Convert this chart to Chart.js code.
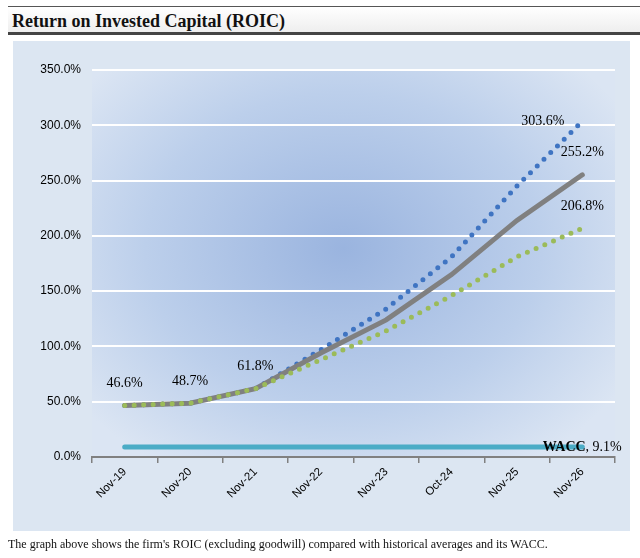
<!DOCTYPE html>
<html>
<head>
<meta charset="utf-8">
<script src="https://cdn.jsdelivr.net/npm/chart.js@4.4.1/dist/chart.umd.min.js"></script>
<style>
  html, body { margin: 0; padding: 0; background: #fff; }
  #wrap { position: relative; width: 640px; height: 558px; overflow: hidden; }
  #title {
    position: absolute; left: 8px; right: 0; top: 6px; height: 29px;
    border-top: 1px solid #555; border-bottom: 3px solid #444;
    background: linear-gradient(to bottom, #ffffff, #eeeeee);
    font: bold 18px "Liberation Serif", serif; color: #111;
    padding-left: 4px; line-height: 29px; box-sizing: border-box;
  }
  #panel { position: absolute; left: 13px; top: 41px; width: 617px; height: 490px; background: #dce6f2; }
  #roic { position: absolute; left: 0; top: 0; }
  #note { position: absolute; left: 8px; top: 537px; font: 12px "Liberation Serif", serif; color: #111; }
</style>
</head>
<body>
<div id="wrap">
  <div id="title">Return on Invested Capital (ROIC)</div>
  <div id="panel"></div>
  <canvas id="roic" width="640" height="558"></canvas>
  <div id="note">The graph above shows the firm's ROIC (excluding goodwill) compared with historical averages and its WACC.</div>
</div>
<script>
// chart data
var categories = ["Nov-19", "Nov-20", "Nov-21", "Nov-22", "Nov-23", "Oct-24", "Nov-25", "Nov-26"];
var roic = [46.6, 48.7, 61.8, 94, 124, 165, 214, 255.2];
var roicHigh = [46.6, 48.7, 61.8, 97, 134, 181, 245, 303.6];
var roicLow = [46.6, 48.7, 61.8, 88, 114, 146, 181, 206.8];
var wacc = [9.1, 9.1, 9.1, 9.1, 9.1, 9.1, 9.1, 9.1];
var yTicks = [0, 50, 100, 150, 200, 250, 300, 350];

function pct(v) { return v.toFixed(1) + '%'; }

// radial shading behind the plot area
var plotShade = {
    id: 'plotShade',
    beforeDraw: function(chart) {
        var a = chart.chartArea, ctx = chart.ctx;
        var cx = (a.left + a.right) / 2 - 10, cy = (a.top + a.bottom) / 2 - 15;
        var rx = 330, ry = 260;
        ctx.save();
        ctx.beginPath();
        ctx.rect(a.left, a.top, a.right - a.left, a.bottom - a.top);
        ctx.clip();
        ctx.translate(cx, cy);
        ctx.scale(1, ry / rx);
        var g = ctx.createRadialGradient(0, 0, 0, 0, 0, rx);
        g.addColorStop(0, '#9ab4df');
        g.addColorStop(0.6, '#bccfeb');
        g.addColorStop(1, '#dbe5f3');
        ctx.fillStyle = g;
        ctx.fillRect(-rx * 2, -rx * 2, rx * 4, rx * 4);
        ctx.restore();
    }
};

// value labels
var valueLabels = {
    id: 'valueLabels',
    afterDatasetsDraw: function(chart) {
        var ctx = chart.ctx;
        var last = categories.length - 1;
        var pts = function(i) { return chart.getDatasetMeta(i).data; };
        ctx.save();
        ctx.fillStyle = '#000';
        ctx.font = '14px "Liberation Serif", serif';
        ctx.textBaseline = 'middle';
        ctx.textAlign = 'center';
        // base series: first three and last
        [0, 1, 2, last].forEach(function(i) {
            var p = pts(1)[i];
            ctx.fillText(pct(roic[i]), p.x, p.y - 22);
        });
        var pl = pts(2)[last];
        ctx.fillText(pct(roicLow[last]), pl.x, pl.y - 22);
        var ph = pts(0)[last];
        ctx.textAlign = 'right';
        ctx.fillText(pct(roicHigh[last]), ph.x - 18, ph.y);
        // WACC
        var pw = pts(3)[last];
        ctx.font = 'bold 14px "Liberation Serif", serif';
        var w1 = ctx.measureText('WACC').width;
        ctx.font = '14px "Liberation Serif", serif';
        var w2 = ctx.measureText(', ' + pct(wacc[last])).width;
        var x0 = pw.x - (w1 + w2) / 2;
        ctx.textAlign = 'left';
        ctx.font = 'bold 14px "Liberation Serif", serif';
        ctx.fillText('WACC', x0, pw.y);
        ctx.font = '14px "Liberation Serif", serif';
        ctx.fillText(', ' + pct(wacc[last]), x0 + w1, pw.y);
        ctx.restore();
    }
};

var ctx = document.getElementById('roic').getContext('2d');
new Chart(ctx, {
    type: 'line',
    data: {
        labels: categories,
        datasets: [{
            label: 'High',
            data: roicHigh,
            borderColor: '#3f74c2',
            borderWidth: 5,
            borderDash: [0, 9.5],
            borderCapStyle: 'round',
            pointRadius: 0,
            order: 3
        }, {
            label: 'ROIC',
            data: roic,
            borderColor: '#808080',
            borderWidth: 5,
            borderCapStyle: 'round',
            pointRadius: 0,
            order: 2
        }, {
            label: 'Low',
            data: roicLow,
            borderColor: '#9bbb59',
            borderWidth: 5,
            borderDash: [0, 9.5],
            borderCapStyle: 'round',
            pointRadius: 0,
            order: 1
        }, {
            label: 'WACC',
            data: wacc,
            borderColor: '#4bacc6',
            borderWidth: 5,
            borderCapStyle: 'round',
            pointRadius: 0,
            order: 0
        }]
    },
    options: {
        responsive: false,
        animation: false,
        layout: { padding: { left: 40, top: 70, right: 25, bottom: 0 } },
        plugins: { legend: { display: false }, tooltip: { enabled: false } },
        scales: {
            x: {
                offset: true,
                grid: { offset: true, drawOnChartArea: false, drawTicks: true, tickLength: 6, color: '#808080', lineWidth: 1.5 },
                border: { display: true, color: '#808080', width: 2 },
                ticks: {
                    color: '#000', minRotation: 45, maxRotation: 45, padding: 2,
                    font: { family: '"Liberation Sans", sans-serif', size: 11.5 }
                },
                afterFit: function(s) { s.height = 101; }
            },
            y: {
                min: yTicks[0],
                max: yTicks[yTicks.length - 1],
                afterBuildTicks: function(s) { s.ticks = yTicks.map(function(v) { return { value: v }; }); },
                grid: {
                    drawTicks: false,
                    lineWidth: 2,
                    color: function(c) { return c.tick && c.tick.value === 0 ? 'rgba(0,0,0,0)' : '#ffffff'; }
                },
                border: { display: false },
                ticks: {
                    color: '#000', padding: 11,
                    font: { family: '"Liberation Sans", sans-serif', size: 12 },
                    callback: function(v) { return pct(v); }
                },
                afterFit: function(s) { s.width = 52; }
            }
        }
    },
    plugins: [plotShade, valueLabels]
});
</script>
</body>
</html>
